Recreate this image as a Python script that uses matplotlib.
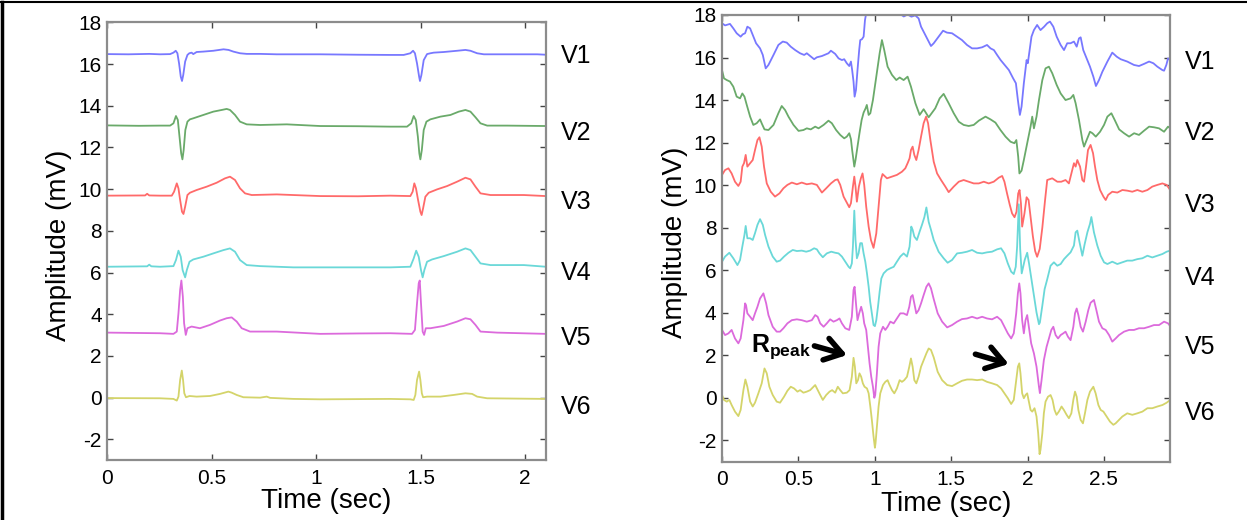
import numpy as np
import matplotlib
matplotlib.use("Agg")
import matplotlib.pyplot as plt
from matplotlib.lines import Line2D

plt.rcParams['font.family'] = ['Liberation Sans', 'DejaVu Sans']
plt.rcParams['mathtext.fontset'] = 'custom'
plt.rcParams['mathtext.rm'] = 'Liberation Sans'
plt.rcParams['mathtext.bf'] = 'Liberation Sans:bold'
plt.rcParams['axes.unicode_minus'] = False

# ---- data: (time s, amplitude mV) ----
# left panel: normal ECG, chest leads V1..V6
LEFT_V1 = [(0, 16.48), (0.10, 16.47), (0.20, 16.49), (0.252, 16.47), (0.300, 16.48), (0.316, 16.55),
           (0.327, 16.64), (0.335, 16.52), (0.343, 16.03), (0.351, 15.40), (0.357, 15.19), (0.363, 15.48),
           (0.372, 16.12), (0.383, 16.44), (0.392, 16.52), (0.403, 16.55), (0.411, 16.48), (0.427, 16.58),
           (0.459, 16.60), (0.507, 16.64), (0.556, 16.71), (0.580, 16.68), (0.603, 16.60), (0.635, 16.52),
           (0.667, 16.49), (0.731, 16.49), (0.811, 16.47), (0.891, 16.47), (1.019, 16.47), (1.20, 16.45),
           (1.355, 16.44), (1.419, 16.44), (1.451, 16.52), (1.464, 16.64), (1.473, 16.52), (1.483, 16.03),
           (1.493, 15.40), (1.497, 15.19), (1.504, 15.48), (1.515, 16.19), (1.531, 16.48), (1.547, 16.52),
           (1.563, 16.55), (1.611, 16.58), (1.675, 16.64), (1.715, 16.68), (1.739, 16.64), (1.771, 16.52),
           (1.803, 16.47), (1.915, 16.47), (2.059, 16.47), (2.10, 16.45)]
LEFT_V2 = [(0, 13.06), (0.15, 13.04), (0.252, 13.05), (0.300, 13.05), (0.316, 13.16), (0.328, 13.51),
           (0.337, 13.32), (0.345, 12.52), (0.353, 11.72), (0.359, 11.43), (0.365, 11.88), (0.373, 12.84),
           (0.383, 13.24), (0.395, 13.35), (0.411, 13.40), (0.459, 13.56), (0.507, 13.72), (0.547, 13.80),
           (0.571, 13.85), (0.587, 13.80), (0.611, 13.56), (0.635, 13.24), (0.667, 13.11), (0.731, 13.08),
           (0.859, 13.11), (1.019, 13.03), (1.2, 13.02), (1.355, 13.00), (1.435, 13.00), (1.455, 13.16),
           (1.467, 13.51), (1.477, 13.32), (1.487, 12.52), (1.494, 11.72), (1.499, 11.43), (1.506, 11.88),
           (1.515, 12.84), (1.528, 13.24), (1.547, 13.35), (1.595, 13.48), (1.643, 13.56), (1.683, 13.72),
           (1.715, 13.80), (1.739, 13.72), (1.763, 13.45), (1.787, 13.16), (1.819, 13.05), (1.915, 13.05),
           (2.10, 13.03)]
LEFT_V3 = [(0, 9.69), (0.18, 9.70), (0.19, 9.78), (0.20, 9.70), (0.252, 9.69), (0.308, 9.69), (0.319, 9.88),
           (0.332, 10.28), (0.340, 10.04), (0.348, 9.48), (0.357, 8.92), (0.364, 8.81), (0.372, 9.16),
           (0.383, 9.72), (0.395, 9.83), (0.427, 9.96), (0.475, 10.12), (0.523, 10.31), (0.563, 10.52),
           (0.587, 10.60), (0.611, 10.44), (0.635, 10.04), (0.659, 9.80), (0.691, 9.72), (0.811, 9.75),
           (1.019, 9.67), (1.2, 9.66), (1.355, 9.69), (1.451, 9.67), (1.462, 9.88), (1.470, 10.28),
           (1.478, 10.04), (1.488, 9.48), (1.499, 8.92), (1.505, 8.76), (1.512, 9.08), (1.523, 9.64),
           (1.539, 9.83), (1.579, 9.99), (1.627, 10.15), (1.675, 10.36), (1.715, 10.55), (1.739, 10.47),
           (1.763, 10.12), (1.787, 9.80), (1.835, 9.72), (1.995, 9.72), (2.10, 9.67)]
LEFT_V4 = [(0, 6.28), (0.19, 6.30), (0.20, 6.38), (0.21, 6.30), (0.252, 6.28), (0.316, 6.31), (0.328, 6.60),
           (0.340, 7.05), (0.351, 6.76), (0.360, 6.12), (0.372, 5.77), (0.380, 6.12), (0.393, 6.52),
           (0.411, 6.63), (0.459, 6.76), (0.507, 6.92), (0.556, 7.08), (0.587, 7.16), (0.611, 7.00),
           (0.635, 6.60), (0.667, 6.36), (0.731, 6.31), (0.891, 6.25), (1.019, 6.25), (1.2, 6.25),
           (1.355, 6.25), (1.451, 6.28), (1.467, 6.68), (1.479, 7.05), (1.491, 6.76), (1.502, 6.12),
           (1.510, 5.77), (1.518, 6.12), (1.531, 6.52), (1.555, 6.63), (1.611, 6.79), (1.675, 7.00),
           (1.715, 7.16), (1.739, 7.08), (1.763, 6.76), (1.787, 6.44), (1.835, 6.36), (1.995, 6.36),
           (2.10, 6.28)]
LEFT_V5 = [(0, 3.12), (0.252, 3.09), (0.316, 3.06), (0.332, 3.17), (0.340, 4.05), (0.348, 5.17),
           (0.354, 5.62), (0.361, 4.85), (0.367, 3.57), (0.375, 3.01), (0.383, 3.33), (0.403, 3.41),
           (0.443, 3.33), (0.491, 3.49), (0.539, 3.70), (0.571, 3.81), (0.595, 3.85), (0.619, 3.65),
           (0.643, 3.33), (0.683, 3.17), (0.811, 3.17), (1.019, 3.06), (1.2, 3.08), (1.355, 3.09),
           (1.459, 3.06), (1.473, 3.25), (1.483, 4.53), (1.491, 5.48), (1.496, 5.62), (1.502, 4.53),
           (1.510, 3.17), (1.517, 3.01), (1.525, 3.33), (1.547, 3.33), (1.611, 3.44), (1.675, 3.65),
           (1.715, 3.81), (1.739, 3.76), (1.763, 3.49), (1.787, 3.17), (1.867, 3.12), (2.10, 3.06)]
LEFT_V6 = [(0, -0.02), (0.252, -0.03), (0.316, -0.06), (0.332, -0.14), (0.340, 0.05), (0.348, 0.85),
           (0.356, 1.30), (0.362, 0.85), (0.368, 0.21), (0.376, 0.02), (0.393, 0.08), (0.427, 0.05),
           (0.491, 0.08), (0.539, 0.18), (0.579, 0.29), (0.595, 0.24), (0.619, 0.13), (0.651, 0.02),
           (0.731, 0.00), (0.763, 0.05), (0.779, -0.01), (0.891, -0.06), (1.019, -0.08), (1.355, -0.06),
           (1.451, -0.08), (1.467, -0.11), (1.475, 0.13), (1.483, 0.85), (1.493, 1.25), (1.499, 0.85),
           (1.506, 0.21), (1.512, 0.02), (1.531, 0.05), (1.595, 0.05), (1.659, 0.13), (1.715, 0.21),
           (1.747, 0.18), (1.771, 0.05), (1.819, -0.03), (2.10, -0.06)]

# right panel: noisy recording, same leads
RIGHT_V1 = [(0, 17.61), (0.020, 17.51), (0.052, 17.58), (0.074, 17.37), (0.096, 17.14), (0.122, 16.98),
            (0.136, 17.09), (0.151, 17.14), (0.166, 17.45), (0.184, 17.37), (0.201, 17.06), (0.223, 16.67),
            (0.249, 16.43), (0.267, 16.12), (0.286, 15.49), (0.304, 15.65), (0.337, 16.12), (0.369, 16.59),
            (0.398, 16.75), (0.424, 16.70), (0.450, 16.51), (0.479, 16.35), (0.511, 16.20), (0.538, 16.12),
            (0.555, 16.20), (0.577, 16.07), (0.603, 15.92), (0.621, 16.01), (0.654, 16.07), (0.697, 16.20),
            (0.713, 16.32), (0.741, 16.17), (0.763, 15.96), (0.785, 15.88), (0.800, 15.92), (0.817, 15.73),
            (0.833, 15.60), (0.844, 15.81), (0.852, 15.41), (0.861, 14.87), (0.868, 14.16), (0.877, 14.47),
            (0.887, 15.41), (0.898, 16.35), (0.905, 16.82), (0.916, 16.86), (0.927, 16.98), (0.936, 17.76),
            (0.944, 18.08), (0.953, 18.4), (1.0, 19.2), (1.12, 19.0), (1.165, 18.05), (1.19, 17.93),
            (1.215, 18.02), (1.24, 17.92), (1.265, 17.98), (1.287, 17.84), (1.303, 17.45), (1.325, 17.14),
            (1.353, 16.75), (1.368, 16.54), (1.386, 16.67), (1.418, 16.98), (1.447, 17.26), (1.473, 17.17),
            (1.506, 17.14), (1.539, 16.98), (1.571, 16.82), (1.604, 16.59), (1.637, 16.43), (1.670, 16.43),
            (1.703, 16.48), (1.735, 16.59), (1.758, 16.43), (1.780, 16.35), (1.801, 16.12), (1.824, 15.88),
            (1.850, 15.65), (1.878, 15.41), (1.906, 15.02), (1.924, 14.79), (1.937, 14.00), (1.950, 13.30),
            (1.961, 13.69), (1.976, 14.79), (1.994, 15.88), (2.002, 15.73), (2.011, 16.20), (2.026, 16.98),
            (2.042, 17.29), (2.063, 17.53), (2.085, 17.29), (2.109, 17.45), (2.129, 17.61), (2.147, 17.69),
            (2.169, 17.45), (2.191, 16.98), (2.217, 16.59), (2.239, 16.35), (2.260, 16.67), (2.282, 16.67),
            (2.304, 16.75), (2.322, 16.51), (2.337, 16.90), (2.348, 16.95), (2.365, 16.35), (2.387, 15.96),
            (2.409, 15.57), (2.431, 15.10), (2.448, 14.66), (2.468, 14.94), (2.490, 15.33), (2.523, 15.81),
            (2.555, 16.23), (2.584, 16.04), (2.610, 15.92), (2.653, 15.81), (2.697, 15.65), (2.730, 15.60),
            (2.763, 15.70), (2.796, 15.81), (2.824, 15.73), (2.850, 15.57), (2.883, 15.41), (2.894, 15.38),
            (2.909, 15.65), (2.920, 15.96), (2.934, 15.88)]
RIGHT_V2 = [(0, 15.41), (0.013, 15.02), (0.031, 14.94), (0.052, 14.87), (0.074, 14.63), (0.096, 14.16),
            (0.118, 14.08), (0.133, 14.31), (0.147, 14.16), (0.162, 13.77), (0.184, 13.22), (0.205, 12.83),
            (0.227, 12.91), (0.249, 13.09), (0.262, 12.87), (0.278, 12.62), (0.304, 12.59), (0.337, 12.83),
            (0.369, 13.38), (0.391, 13.72), (0.413, 13.53), (0.435, 13.22), (0.468, 12.83), (0.501, 12.55),
            (0.533, 12.59), (0.555, 12.67), (0.581, 12.62), (0.610, 12.75), (0.632, 12.67), (0.665, 12.83),
            (0.697, 13.03), (0.719, 12.91), (0.747, 12.59), (0.774, 12.36), (0.800, 12.20), (0.817, 12.28),
            (0.833, 12.44), (0.844, 12.16), (0.852, 11.65), (0.866, 10.87), (0.874, 11.18), (0.887, 11.81),
            (0.900, 12.44), (0.914, 13.06), (0.927, 13.41), (0.940, 13.61), (0.948, 13.77), (0.960, 13.30),
            (0.971, 13.38), (0.988, 14.00), (1.010, 15.10), (1.032, 16.20), (1.047, 16.82), (1.062, 16.35),
            (1.084, 15.57), (1.113, 15.18), (1.141, 14.94), (1.163, 15.06), (1.189, 14.94), (1.215, 15.10),
            (1.237, 14.63), (1.266, 13.85), (1.294, 13.30), (1.320, 13.57), (1.353, 13.19), (1.396, 13.61),
            (1.425, 14.08), (1.451, 14.29), (1.484, 13.85), (1.517, 13.38), (1.550, 12.98), (1.582, 12.83),
            (1.615, 12.78), (1.648, 12.83), (1.681, 13.03), (1.725, 13.22), (1.758, 13.09), (1.790, 12.94),
            (1.823, 12.59), (1.856, 12.28), (1.889, 12.04), (1.914, 11.97), (1.927, 12.12), (1.939, 11.34),
            (1.947, 10.55), (1.961, 10.68), (1.976, 11.18), (1.998, 11.97), (2.020, 12.75), (2.031, 13.22),
            (2.042, 12.67), (2.059, 13.22), (2.075, 14.00), (2.097, 14.94), (2.118, 15.49), (2.140, 15.57),
            (2.162, 15.26), (2.191, 14.71), (2.217, 14.31), (2.249, 14.00), (2.282, 14.08), (2.300, 14.24),
            (2.315, 13.85), (2.337, 13.06), (2.359, 12.12), (2.370, 11.81), (2.387, 12.12), (2.409, 12.51),
            (2.425, 12.44), (2.447, 12.28), (2.475, 12.51), (2.501, 12.83), (2.523, 13.22), (2.549, 13.38),
            (2.571, 13.06), (2.600, 12.62), (2.632, 12.44), (2.665, 12.28), (2.698, 12.44), (2.730, 12.36),
            (2.763, 12.56), (2.796, 12.75), (2.828, 12.72), (2.861, 12.67), (2.894, 12.51), (2.920, 12.75),
            (2.934, 12.67)]
RIGHT_V3 = [(0, 10.48), (0.020, 10.71), (0.042, 10.79), (0.063, 10.55), (0.085, 10.16), (0.107, 9.96),
            (0.122, 10.16), (0.133, 10.87), (0.144, 11.03), (0.155, 11.42), (0.166, 10.87), (0.184, 11.03),
            (0.201, 11.18), (0.216, 11.65), (0.232, 12.12), (0.245, 12.25), (0.260, 11.81), (0.275, 10.87),
            (0.293, 10.08), (0.319, 9.69), (0.347, 9.46), (0.376, 9.61), (0.402, 9.85), (0.428, 10.01),
            (0.457, 10.12), (0.490, 10.04), (0.522, 10.12), (0.555, 10.04), (0.588, 10.08), (0.621, 10.01),
            (0.654, 9.65), (0.682, 9.85), (0.713, 10.08), (0.741, 10.24), (0.757, 10.27), (0.774, 10.01),
            (0.796, 9.46), (0.817, 9.18), (0.833, 8.96), (0.844, 9.15), (0.857, 9.93), (0.866, 10.40),
            (0.874, 9.93), (0.883, 9.22), (0.896, 9.93), (0.909, 10.32), (0.920, 10.55), (0.931, 10.01),
            (0.944, 8.99), (0.960, 8.05), (0.975, 7.42), (0.992, 7.05), (1.010, 7.73), (1.025, 8.99),
            (1.040, 10.24), (1.051, 10.52), (1.080, 10.32), (1.113, 10.40), (1.145, 10.48), (1.178, 10.63),
            (1.200, 10.79), (1.215, 11.03), (1.228, 11.26), (1.237, 11.65), (1.248, 11.81), (1.259, 11.42),
            (1.272, 11.18), (1.287, 11.65), (1.303, 12.28), (1.320, 12.91), (1.336, 13.22), (1.349, 12.91),
            (1.364, 12.12), (1.386, 11.10), (1.408, 10.55), (1.434, 10.24), (1.462, 9.93), (1.484, 9.67),
            (1.517, 9.93), (1.550, 10.16), (1.582, 10.24), (1.615, 10.16), (1.648, 10.08), (1.681, 10.08),
            (1.714, 10.16), (1.746, 10.08), (1.779, 10.16), (1.812, 10.35), (1.834, 10.43), (1.849, 10.16),
            (1.866, 9.61), (1.884, 9.07), (1.899, 8.67), (1.915, 8.49), (1.928, 8.75), (1.939, 9.61),
            (1.948, 9.77), (1.957, 9.14), (1.965, 8.05), (1.980, 8.67), (1.994, 9.43), (2.007, 9.30),
            (2.020, 8.52), (2.035, 7.60), (2.050, 6.90), (2.063, 6.63), (2.080, 7.00), (2.097, 8.00),
            (2.115, 9.30), (2.129, 10.24), (2.162, 10.32), (2.195, 10.16), (2.221, 10.16), (2.249, 10.24),
            (2.271, 10.08), (2.293, 10.71), (2.304, 11.03), (2.315, 10.87), (2.326, 11.18), (2.344, 10.87),
            (2.359, 10.24), (2.370, 10.16), (2.383, 10.87), (2.396, 11.65), (2.413, 11.89), (2.429, 11.50),
            (2.442, 10.87), (2.457, 10.24), (2.475, 9.77), (2.497, 9.46), (2.512, 9.30), (2.528, 9.54),
            (2.555, 9.69), (2.588, 9.65), (2.621, 9.77), (2.653, 9.74), (2.686, 9.69), (2.719, 9.77),
            (2.752, 9.69), (2.785, 9.77), (2.817, 9.93), (2.850, 10.01), (2.883, 10.08), (2.911, 10.01),
            (2.934, 9.77)]
RIGHT_V4 = [(0, 6.40), (0.020, 6.64), (0.048, 6.82), (0.074, 6.56), (0.101, 6.24), (0.118, 6.48),
            (0.133, 7.11), (0.147, 7.66), (0.155, 8.08), (0.166, 7.50), (0.184, 7.50), (0.201, 7.42),
            (0.216, 7.74), (0.232, 8.13), (0.249, 8.40), (0.267, 8.13), (0.282, 7.66), (0.304, 7.11),
            (0.332, 6.64), (0.358, 6.40), (0.380, 6.45), (0.406, 6.64), (0.435, 6.82), (0.463, 6.95),
            (0.490, 6.90), (0.522, 6.92), (0.551, 6.87), (0.577, 6.92), (0.603, 7.03), (0.621, 6.98),
            (0.638, 6.79), (0.660, 6.61), (0.686, 6.79), (0.715, 6.87), (0.741, 6.82), (0.763, 6.79),
            (0.785, 6.64), (0.807, 6.40), (0.829, 6.16), (0.839, 6.09), (0.850, 6.32), (0.857, 7.11),
            (0.866, 8.80), (0.874, 7.42), (0.883, 6.56), (0.894, 6.79), (0.905, 7.27), (0.916, 7.27),
            (0.927, 6.79), (0.938, 6.40), (0.949, 5.85), (0.960, 5.22), (0.970, 4.52), (0.981, 3.97),
            (0.992, 3.42), (1.001, 3.37), (1.010, 3.65), (1.021, 4.28), (1.032, 4.99), (1.043, 5.61),
            (1.058, 5.85), (1.080, 6.01), (1.102, 6.09), (1.124, 6.16), (1.145, 6.40), (1.167, 6.64),
            (1.189, 6.79), (1.211, 6.64), (1.228, 7.11), (1.239, 8.05), (1.248, 7.90), (1.259, 7.58),
            (1.276, 7.42), (1.294, 7.82), (1.309, 8.13), (1.325, 8.50), (1.338, 8.95), (1.353, 8.27),
            (1.368, 7.90), (1.386, 7.42), (1.418, 6.87), (1.451, 6.56), (1.477, 6.35), (1.506, 6.48),
            (1.539, 6.79), (1.571, 6.82), (1.604, 6.87), (1.637, 6.95), (1.670, 6.82), (1.703, 6.79),
            (1.735, 6.84), (1.768, 6.87), (1.801, 6.98), (1.827, 7.03), (1.849, 6.79), (1.871, 6.32),
            (1.893, 5.93), (1.910, 5.82), (1.923, 6.16), (1.932, 7.11), (1.943, 9.10), (1.952, 7.00),
            (1.962, 5.85), (1.982, 6.49), (1.998, 6.82), (2.011, 6.27), (2.026, 5.57), (2.042, 4.79),
            (2.059, 4.01), (2.075, 3.46), (2.081, 3.54), (2.097, 4.33), (2.112, 5.11), (2.129, 5.57),
            (2.151, 6.21), (2.173, 6.37), (2.195, 6.21), (2.217, 6.29), (2.239, 6.52), (2.260, 6.68),
            (2.282, 6.84), (2.304, 7.16), (2.315, 7.78), (2.326, 7.86), (2.341, 7.30), (2.359, 6.68),
            (2.374, 7.22), (2.392, 7.78), (2.409, 8.18), (2.418, 8.50), (2.435, 7.78), (2.457, 7.16),
            (2.479, 6.68), (2.501, 6.37), (2.523, 6.29), (2.555, 6.40), (2.588, 6.29), (2.621, 6.37),
            (2.653, 6.45), (2.686, 6.45), (2.719, 6.52), (2.752, 6.56), (2.785, 6.68), (2.817, 6.60),
            (2.850, 6.68), (2.883, 6.76), (2.911, 6.87), (2.934, 6.92)]
RIGHT_V5 = [(0, 3.19), (0.020, 2.95), (0.042, 3.03), (0.063, 3.19), (0.085, 2.79), (0.107, 2.56),
            (0.122, 2.79), (0.140, 3.65), (0.151, 4.44), (0.157, 4.36), (0.166, 3.97), (0.184, 3.81),
            (0.201, 3.65), (0.216, 3.97), (0.232, 4.28), (0.249, 4.67), (0.271, 4.91), (0.289, 4.44),
            (0.304, 3.89), (0.332, 3.34), (0.358, 3.11), (0.380, 3.11), (0.402, 3.27), (0.428, 3.50),
            (0.457, 3.65), (0.490, 3.69), (0.522, 3.65), (0.555, 3.58), (0.588, 3.65), (0.610, 3.89),
            (0.626, 3.81), (0.643, 3.50), (0.665, 3.34), (0.686, 3.50), (0.708, 3.69), (0.730, 3.58),
            (0.752, 3.65), (0.769, 3.73), (0.785, 3.50), (0.807, 3.27), (0.833, 3.19), (0.850, 3.81),
            (0.861, 5.07), (0.868, 5.22), (0.877, 4.44), (0.887, 3.65), (0.898, 3.97), (0.911, 4.28),
            (0.922, 3.97), (0.931, 3.50), (0.944, 3.19), (0.955, 2.40), (0.966, 1.62), (0.977, 0.99),
            (0.988, 0.52), (0.997, 0.00), (1.003, 0.13), (1.014, 1.15), (1.025, 2.40), (1.036, 3.03),
            (1.054, 3.34), (1.069, 3.19), (1.084, 3.34), (1.102, 3.58), (1.124, 3.50), (1.145, 3.73),
            (1.167, 3.97), (1.189, 3.97), (1.211, 3.89), (1.226, 4.28), (1.237, 4.75), (1.248, 4.83),
            (1.259, 4.44), (1.272, 3.97), (1.287, 4.12), (1.303, 4.44), (1.320, 4.83), (1.338, 5.22),
            (1.353, 5.38), (1.368, 5.15), (1.386, 4.64), (1.412, 3.97), (1.441, 3.58), (1.474, 3.31),
            (1.506, 3.42), (1.539, 3.58), (1.571, 3.70), (1.604, 3.73), (1.637, 3.81), (1.670, 3.73),
            (1.703, 3.81), (1.735, 3.73), (1.768, 3.69), (1.801, 3.81), (1.827, 3.65), (1.849, 3.34),
            (1.871, 3.03), (1.893, 2.79), (1.910, 3.03), (1.926, 3.97), (1.937, 4.91), (1.946, 5.38),
            (1.954, 4.91), (1.965, 3.65), (1.976, 3.03), (1.987, 3.65), (1.998, 3.89), (2.009, 3.34),
            (2.024, 2.56), (2.042, 2.09), (2.059, 1.46), (2.075, 0.52), (2.081, 0.22), (2.092, 0.83),
            (2.107, 1.77), (2.125, 2.40), (2.140, 2.79), (2.156, 3.19), (2.169, 3.34), (2.184, 2.95),
            (2.200, 2.79), (2.217, 2.95), (2.234, 3.03), (2.249, 3.11), (2.265, 2.87), (2.282, 2.71),
            (2.300, 3.34), (2.311, 3.97), (2.322, 4.20), (2.333, 3.89), (2.348, 3.34), (2.363, 3.11),
            (2.381, 3.58), (2.398, 4.12), (2.413, 4.47), (2.435, 4.60), (2.451, 4.12), (2.468, 3.58),
            (2.490, 3.27), (2.512, 3.19), (2.534, 2.95), (2.555, 2.64), (2.577, 2.79), (2.599, 2.95),
            (2.632, 3.11), (2.665, 3.19), (2.697, 3.19), (2.730, 3.27), (2.763, 3.27), (2.796, 3.34),
            (2.828, 3.42), (2.861, 3.42), (2.894, 3.58), (2.920, 3.50), (2.934, 3.37)]
RIGHT_V6 = [(0, 0.13), (0.013, -0.10), (0.031, -0.18), (0.048, -0.10), (0.063, -0.34), (0.085, -0.65),
            (0.107, -0.86), (0.122, -0.57), (0.140, 0.36), (0.153, 0.86), (0.166, 0.52), (0.184, -0.18),
            (0.201, -0.41), (0.216, -0.23), (0.238, 0.21), (0.260, 0.68), (0.278, 1.38), (0.293, 1.15),
            (0.310, 0.52), (0.332, 0.13), (0.358, -0.18), (0.380, -0.23), (0.406, 0.05), (0.428, 0.33),
            (0.450, 0.52), (0.472, 0.44), (0.494, 0.29), (0.511, 0.36), (0.533, 0.24), (0.555, 0.29),
            (0.577, 0.36), (0.610, 0.60), (0.621, 0.44), (0.643, 0.13), (0.660, -0.10), (0.682, 0.13),
            (0.704, 0.29), (0.721, 0.36), (0.741, 0.24), (0.758, 0.52), (0.774, 0.36), (0.791, 0.21),
            (0.817, 0.24), (0.835, 0.36), (0.850, 0.99), (0.861, 1.88), (0.870, 1.46), (0.879, 0.68),
            (0.890, 0.83), (0.900, 1.15), (0.911, 0.99), (0.922, 0.68), (0.933, 0.52), (0.949, 0.44),
            (0.960, 0.21), (0.971, -0.41), (0.981, -1.04), (0.992, -1.82), (1.001, -2.35), (1.005, -2.14),
            (1.014, -1.35), (1.025, -0.41), (1.036, 0.21), (1.054, 0.60), (1.069, 0.75), (1.084, 0.83),
            (1.097, 0.60), (1.113, 0.36), (1.128, 0.21), (1.145, 0.44), (1.163, 0.83), (1.178, 0.75),
            (1.193, 0.83), (1.211, 0.99), (1.226, 1.46), (1.237, 1.85), (1.248, 1.46), (1.259, 0.83),
            (1.272, 0.68), (1.287, 0.99), (1.303, 1.46), (1.320, 1.77), (1.338, 2.09), (1.353, 2.32),
            (1.368, 2.25), (1.386, 1.90), (1.412, 1.22), (1.441, 0.83), (1.474, 0.60), (1.506, 0.55),
            (1.539, 0.68), (1.571, 0.80), (1.604, 0.86), (1.637, 0.86), (1.670, 0.83), (1.703, 0.86),
            (1.735, 0.75), (1.768, 0.68), (1.801, 0.60), (1.827, 0.44), (1.849, 0.21), (1.871, -0.02),
            (1.893, -0.29), (1.910, -0.10), (1.926, 0.83), (1.937, 1.46), (1.946, 1.62), (1.954, 1.15),
            (1.965, 0.21), (1.976, -0.02), (1.987, 0.13), (1.998, 0.21), (2.009, -0.18), (2.020, -0.57),
            (2.031, -0.65), (2.046, -0.49), (2.059, -0.88), (2.070, -1.67), (2.079, -2.65), (2.085, -2.45),
            (2.097, -1.67), (2.107, -0.73), (2.118, -0.18), (2.134, 0.05), (2.151, 0.13), (2.164, -0.10),
            (2.177, -0.57), (2.190, -0.80), (2.205, -0.65), (2.223, -0.41), (2.238, -0.57), (2.256, -0.80),
            (2.271, -0.96), (2.287, -0.73), (2.300, -0.10), (2.311, 0.29), (2.322, 0.05), (2.333, -0.57),
            (2.348, -1.04), (2.363, -1.20), (2.376, -0.73), (2.392, -0.10), (2.409, 0.29), (2.431, 0.52),
            (2.446, 0.21), (2.464, -0.34), (2.479, -0.57), (2.497, -0.65), (2.518, -0.88), (2.540, -1.12),
            (2.562, -1.27), (2.577, -1.20), (2.599, -1.04), (2.621, -0.88), (2.653, -0.73), (2.686, -0.80),
            (2.719, -0.73), (2.752, -0.65), (2.785, -0.49), (2.817, -0.49), (2.850, -0.41), (2.883, -0.34),
            (2.911, -0.23), (2.934, -0.10)]

lead_names = ['V1', 'V2', 'V3', 'V4', 'V5', 'V6']
lead_colors = ['#7878ff', '#6aaa6a', '#ff6a6a', '#6ad8d8', '#dc6adc', '#d4d46a']
left_label_y = [16.39, 12.70, 9.39, 5.98, 2.86, -0.45]
right_label_y = [15.79, 12.45, 9.07, 5.64, 2.39, -0.71]

yticks = [-2, 0, 2, 4, 6, 8, 10, 12, 14, 16, 18]
left_xticks = [0, 0.5, 1, 1.5, 2]
left_xticklabels = ['0', '0.5', '1', '1.5', '2']
right_xticks = [0, 0.5, 1, 1.5, 2, 2.5]
right_xticklabels = ['0', '0.5', '1', '1.5', '2', '2.5']

fig = plt.figure(figsize=(12.47, 5.2), dpi=100)
ax1 = fig.add_axes([0.0862, 0.1150, 0.3515, 0.8419])
ax2 = fig.add_axes([0.5790, 0.1123, 0.3589, 0.8589])


def style(ax, xmax, xticks, xlabels, label_x, xlab_y):
    ax.set_xlim(0, xmax)
    ax.set_ylim(-3, 18)
    ax.set_xticks(xticks)
    ax.set_xticklabels(xlabels)
    ax.set_yticks(yticks)
    ax.tick_params(direction='in', length=4, width=1, color='#444444', top=True, right=True,
                   labelsize=15, labelcolor='black')
    ax.tick_params(axis='x', pad=6)
    ax.tick_params(axis='y', pad=4)
    for s in ax.spines.values():
        s.set_color('#8c8c8c')
        s.set_linewidth(1.6)
    ax.set_xlabel('Time (sec)', fontsize=20)
    ax.set_ylabel('Amplitude (mV)', fontsize=20)
    ax.yaxis.set_label_coords(label_x, 0.49)
    ax.xaxis.set_label_coords(0.5, xlab_y)


for ax, traces, ylab in [(ax1, [LEFT_V1, LEFT_V2, LEFT_V3, LEFT_V4, LEFT_V5, LEFT_V6], left_label_y),
                         (ax2, [RIGHT_V1, RIGHT_V2, RIGHT_V3, RIGHT_V4, RIGHT_V5, RIGHT_V6], right_label_y)]:
    for tr, col, name, ly in zip(traces, lead_colors, lead_names, ylab):
        arr = np.array(tr)
        ax.plot(arr[:, 0], arr[:, 1], color=col, lw=1.3)
        ax.text(1.035, ly, name, transform=ax.get_yaxis_transform(), fontsize=18,
                ha='left', va='center', clip_on=False)

style(ax1, 2.1, left_xticks, left_xticklabels, -0.080, -0.064)
style(ax2, 2.93, right_xticks, right_xticklabels, -0.077, -0.066)

# R-peak annotation and arrows
ax2.text(0.19, 2.16, r'$\mathbf{R}_{\mathbf{peak}}$', fontsize=18, ha='left', va='baseline')
arrow = dict(arrowstyle='->,head_length=0.6,head_width=0.4', lw=4, color='black',
             shrinkA=0, shrinkB=0, mutation_scale=20)
ax2.annotate('', xy=(0.818, 2.01), xytext=(0.605, 2.44), arrowprops=arrow)
ax2.annotate('', xy=(1.877, 1.59), xytext=(1.659, 2.05), arrowprops=arrow)

# outer frame lines (top and left)
fig.add_artist(Line2D([0, 1], [0.996, 0.996], transform=fig.transFigure, color='black', lw=1.5))
fig.add_artist(Line2D([0.0018, 0.0018], [0, 0.996], transform=fig.transFigure, color='black', lw=2.5))

fig.savefig('out.png', dpi=100)
